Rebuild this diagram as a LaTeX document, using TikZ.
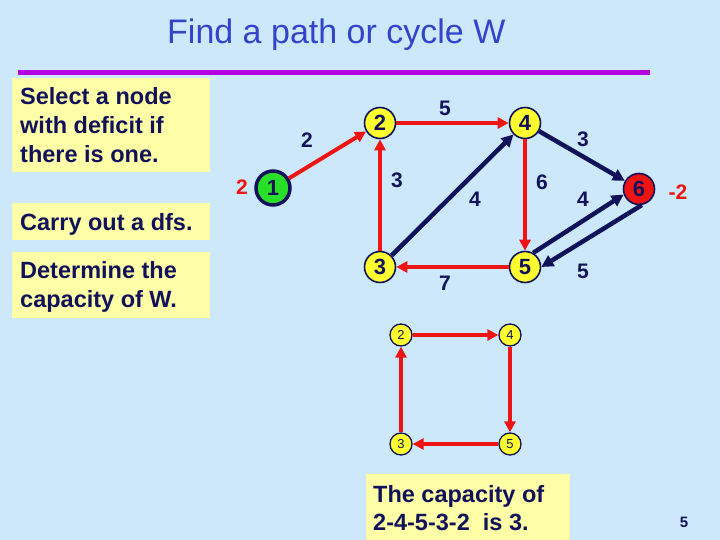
\documentclass[tikz,border=0pt]{standalone}
\usepackage{fontspec}
\setmainfont{Liberation Sans}
\usetikzlibrary{arrows.meta}

\definecolor{bgblue}{HTML}{CCE8FA}
\definecolor{boxyellow}{HTML}{FFFFA8}
\definecolor{titleblue}{HTML}{3344CC}
\definecolor{rulepurple}{HTML}{B400E0}
\definecolor{navy}{HTML}{12125A}
\definecolor{arcred}{HTML}{EE1414}
\definecolor{nodeyellow}{HTML}{FFFF30}
\definecolor{nodegreen}{HTML}{28E028}

\tikzset{
  vertex/.style={circle, draw=navy, line width=1.6pt, fill=nodeyellow, minimum size=31pt,
    inner sep=0pt, text=navy, font=\fontsize{22}{22}\selectfont\bfseries},
  small vertex/.style={circle, draw=navy, line width=1.3pt, fill=nodeyellow, minimum size=22pt,
    inner sep=0pt, text=navy, font=\fontsize{13}{13}\selectfont},
  red arc/.style={arcred, line width=4pt, -{Triangle[length=11pt,width=11pt]}},
  blue arc/.style={navy, line width=4.5pt, -{Triangle[length=12pt,width=12pt]}},
  weight/.style={text=navy, font=\fontsize{21}{21}\selectfont\bfseries},
  excess/.style={text=arcred, font=\fontsize{21}{21}\selectfont\bfseries},
  remark/.style={anchor=base west, inner sep=0pt, text=navy,
    font=\fontsize{23.5}{23.5}\selectfont\bfseries},
}

\begin{document}
\begin{tikzpicture}[x=1pt, y=-1pt]
    % --- background and frame of the slide ---
    \fill[bgblue] (0,0) rectangle (720,540);
    \node[text=titleblue, font=\fontsize{34}{34}\selectfont, anchor=base west, inner sep=0pt]
        (title) at (167,44) {Find a path or cycle W};
    \fill[rulepurple] (18,70) rectangle (650,75);

    % --- text boxes on the left ---
    \fill[boxyellow] (12,78) rectangle (210,172);
    \fill[boxyellow] (12,203) rectangle (210,240);
    \fill[boxyellow] (12,252) rectangle (210,318);
    \node[remark] (selA) at (20,105) {Select a node};
    \node[remark] (selB) at (20,134) {with deficit if};
    \node[remark] (selC) at (20,163) {there is one.};
    \node[remark] (dfs) at (20,230) {Carry out a dfs.};
    \node[remark] (capA) at (20,278) {Determine the};
    \node[remark] (capB) at (20,307) {capacity of W.};

    % --- the network ---
    \node[vertex, fill=nodegreen, line width=3.5pt, minimum size=34pt] (n1) at (273,188) {1};
    \node[vertex] (n2) at (380,123) {2};
    \node[vertex] (n4) at (525,123) {4};
    \node[vertex] (n3) at (380,267) {3};
    \node[vertex] (n5) at (525,267) {5};
    \node[vertex, fill=arcred] (n6) at (639,189) {6};

    % deficit and excess
    \node[excess] (d1) at (242,187) {2};
    \node[excess] (d6) at (678,192) {-2};

    % arcs of the cycle W (red)
    \draw[red arc] (n1) -- (n2);
    \draw[red arc] (n3) -- (n2);
    \draw[red arc] (n2) -- (n4);
    \draw[red arc] (n4) -- (n5);
    \draw[red arc] (n5) -- (n3);
    % other arcs (blue)
    \draw[blue arc] (n3) -- (n4);
    \draw[blue arc] (n4) -- (n6);
    \draw[blue arc] (n5.60) -- (n6.200);
    \draw[blue arc] (n6.-80) -- (n5.0);

    % capacities
    \node[weight] (w12) at (307,140) {2};
    \node[weight] (w32) at (397,180) {3};
    \node[weight] (w24) at (445,108) {5};
    \node[weight] (w45) at (542,182) {6};
    \node[weight] (w53) at (445,283) {7};
    \node[weight] (w34) at (475,199) {4};
    \node[weight] (w46) at (583,139) {3};
    \node[weight] (w56) at (583,199) {4};
    \node[weight] (w65) at (583,271) {5};

    % --- the cycle 2-4-5-3-2 on its own ---
    \node[small vertex] (c2) at (401,335) {2};
    \node[small vertex] (c4) at (510,335) {4};
    \node[small vertex] (c3) at (401,444) {3};
    \node[small vertex] (c5) at (510,444) {5};
    \draw[red arc] (c2) -- (c4);
    \draw[red arc] (c4) -- (c5);
    \draw[red arc] (c5) -- (c3);
    \draw[red arc] (c3) -- (c2);

    % --- answer box and page number ---
    \fill[boxyellow] (366,474) rectangle (570,540);
    \node[remark] (ansA) at (373,502) {The capacity of};
    \node[remark] (ansB) at (373,530) {2-4-5-3-2~ is 3.};
    \node[text=navy, font=\fontsize{15}{15}\selectfont\bfseries] (page) at (684,522) {5};
\end{tikzpicture}
\end{document}
